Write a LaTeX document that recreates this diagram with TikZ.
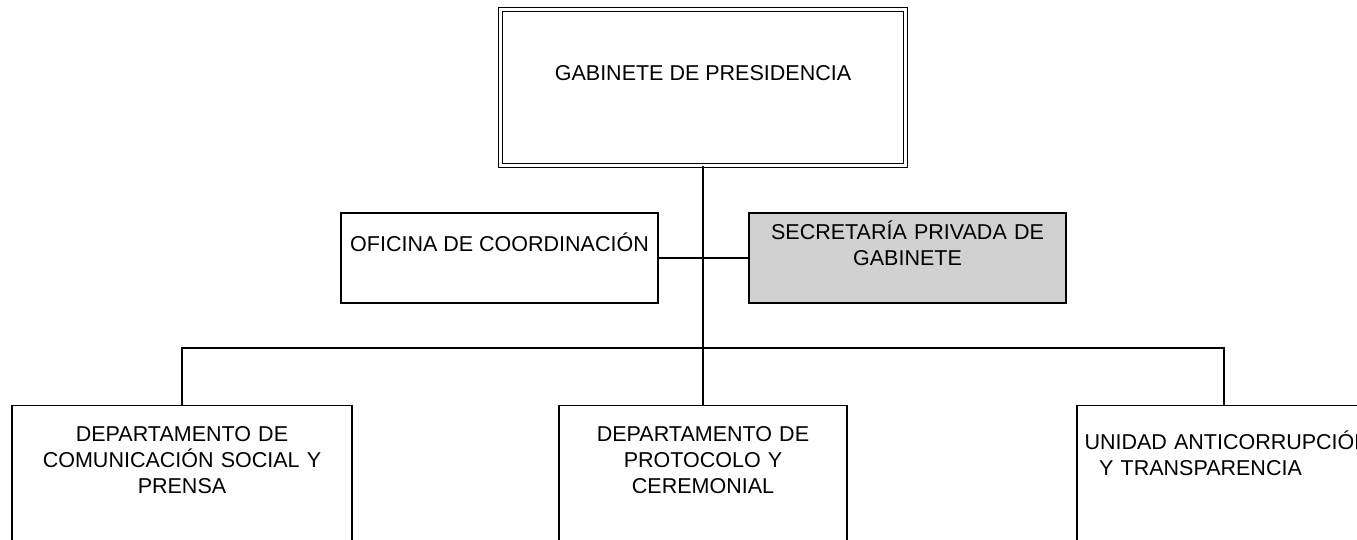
\documentclass[tikz,border=0pt]{standalone}
\usepackage{fontspec}
\setmainfont{Liberation Sans}
\usepackage{tikz}
\usetikzlibrary{positioning}

\tikzset{
    unitbox/.style={draw, line width=0.85pt, inner sep=0pt},
    headbox/.style={draw, double, double distance=1.4pt, line width=0.6pt, inner sep=0pt},
    unittext/.style={anchor=base, align=center, inner sep=0pt, font=\fontsize{10.75}{12.9}\selectfont},
    link/.style={line width=0.85pt}
}

\begin{document}
\begin{tikzpicture}[x=0.5pt, y=-0.5pt]
        \useasboundingbox (0,0) rectangle (1357,540);
        \clip (0,0) rectangle (1357,540);

        % Head
        \node[headbox, minimum width=202.5pt, minimum height=78pt] (gab) at (703,87.5) {};
        \node[unittext] (gabtxt) at (703,81) {GABINETE DE PRESIDENCIA};

        % Staff units
        \node[unitbox, minimum width=158.35pt, minimum height=45pt] (ofi) at (499.4,257.7) {};
        \node[unittext] (ofitxt) at (499.5,252) {OFICINA DE COORDINACIÓN};
        \node[unitbox, fill=black!18, minimum width=158.65pt, minimum height=45pt] (sec) at (907.4,257.7) {};
        \node[unittext, text width=150pt] (sectxt) at (907.5,240) {SECRETARÍA PRIVADA DE\\GABINETE};

        % Departments
        \node[unitbox, minimum width=170pt, minimum height=100pt] (com) at (182,505.5) {};
        \node[unittext, text width=160pt] (comtxt) at (182,441.5) {DEPARTAMENTO DE\\COMUNICACIÓN SOCIAL Y\\PRENSA};
        \node[unitbox, minimum width=144pt, minimum height=100pt] (prot) at (703,505.5) {};
        \node[unittext, text width=136pt] (prottxt) at (703,441.5) {DEPARTAMENTO DE\\PROTOCOLO Y\\CEREMONIAL};
        \node[unitbox, minimum width=181.5pt, minimum height=100pt] (uni) at (1258.5,505.5) {};
        \node[unittext, text width=116pt] (unitxt) at (1200.5,449.5) {\makebox[\linewidth][l]{UNIDAD ANTICORRUPCIÓN}\\Y TRANSPARENCIA};

        % Lines
        \coordinate (bus) at (703,348);
        \coordinate (unidrop) at (1224,405.5);
        \draw[link] (gab.south) -- (prot.north);
        \draw[link] (ofi.east) -- (sec.west);
        \draw[link] (com.north) |- (bus) -| (unidrop);
\end{tikzpicture}
\end{document}
